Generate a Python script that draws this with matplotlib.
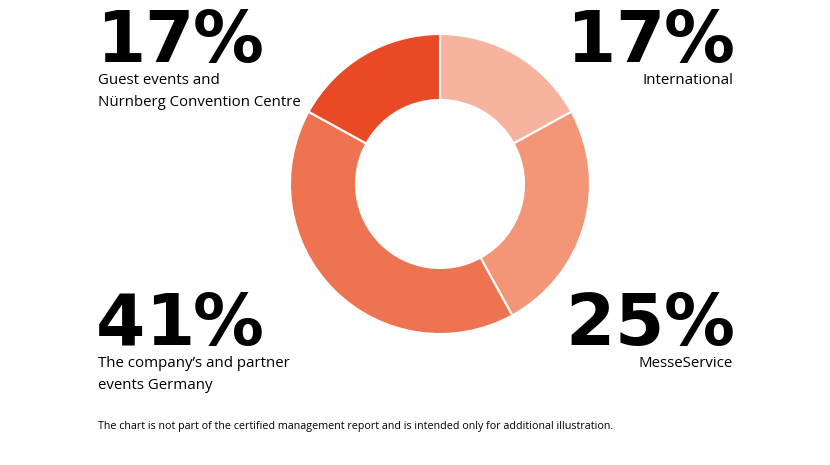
import matplotlib
matplotlib.use('Agg')
import matplotlib.pyplot as plt

labels = ['International', 'MesseService',
          'The company\u2019s and partner\nevents Germany',
          'Guest events and\nN\u00fcrnberg Convention Centre']
shares = [17, 25, 41, 17]
colors = ['#F6B49F', '#F39677', '#EE7350', '#E84A26']
footer = 'The chart is not part of the certified management report and is intended only for additional illustration.'

W, H = 830, 465
fig = plt.figure(figsize=(W / 100, H / 100), dpi=100)
plt.rcParams['font.family'] = ['Open Sans', 'DejaVu Sans']

# donut, centre approx (440, 184) px, outer radius 150 px
ax = fig.add_axes([290 / W, 1 - 334 / H, 300 / W, 300 / H])
ax.pie(shares, colors=colors, startangle=90, counterclock=False,
       wedgeprops=dict(width=0.44, edgecolor='white', linewidth=1.5))
ax.set_aspect('equal')
ax.set_xlim(-1, 1)
ax.set_ylim(-1, 1)
ax.axis('off')

def px(x, y):
    return x / W, 1 - y / H

renderer = fig.canvas.get_renderer()

def spaced(s, x0, x1, y, **kw):
    # draw characters one by one, spread so the run spans x0..x1
    txts = [fig.text(0, 0, c, ha='left', va='baseline', **kw) for c in s]
    widths = [t.get_window_extent(renderer).width for t in txts]
    gap = ((x1 - x0) - sum(widths)) / (len(s) - 1)
    x = x0
    for t, w in zip(txts, widths):
        t.set_position(px(x, y))
        x += w + gap

# (left, right, baseline of number) for each share
spots = [(566, 735, 62), (565, 735, 345), (96, 264, 345), (96, 264, 62)]

for lab, val, (xl, xr, yb), ha in zip(labels, shares, spots,
                                      ['right', 'right', 'left', 'left']):
    spaced(f'{val}%', xl, xr, yb, fontsize=51, fontweight='bold',
           family='DejaVu Sans', color='black')
    x = xr - 2 if ha == 'right' else xl + 2
    fig.text(*px(x, yb + 11), lab, ha=ha, va='top', fontsize=10.8,
             color='black', linespacing=1.6, multialignment=ha)

fig.text(*px(98, 426), footer, ha='left', va='center', fontsize=7.75, color='black')

fig.savefig('out.png', dpi=100, facecolor='white')
